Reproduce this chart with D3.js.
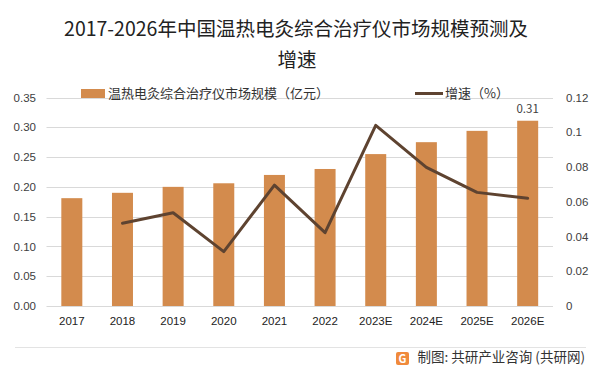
<!DOCTYPE html>
<html><head><meta charset="utf-8">
<script src="https://cdn.jsdelivr.net/npm/d3@7"></script>
<style>body{margin:0;background:#fff;}svg{display:block;font-family:"Noto Sans CJK SC","Noto Sans",sans-serif;}</style>
</head><body>
<svg id="c" width="597" height="375"></svg>
<script>
const categories = ["2017","2018","2019","2020","2021","2022","2023E","2024E","2025E","2026E"];
const marketSize = [0.181,0.190,0.200,0.206,0.220,0.230,0.255,0.275,0.294,0.311];
const growth = [null,0.0476,0.0537,0.0313,0.0696,0.0422,0.104,0.0798,0.0654,0.0620];
const leftTicks = [0,0.05,0.10,0.15,0.20,0.25,0.30,0.35];
const rightTicks = [0,0.02,0.04,0.06,0.08,0.1,0.12];
const rightTickLabels = ["0","0.02","0.04","0.06","0.08","0.1","0.12"];
const title1 = "2017-2026年中国温热电灸综合治疗仪市场规模预测及";
const title2 = "增速";
const legendBar = "温热电灸综合治疗仪市场规模（亿元）";
const legendLine = "增速（%）";
const footer = "制图: 共研产业咨询 (共研网)";

const svg = d3.select("#c");
const L = 46.5, R = 553, T = 97.5, B = 306;
const yL = d3.scaleLinear().domain([0,0.35]).range([B,T]);
const yR = d3.scaleLinear().domain([0,0.12]).range([B,T]);
const bandX = d3.scaleBand().domain(categories).range([L,R]);

// grid
svg.append("g").selectAll("line").data(leftTicks).join("line")
  .attr("x1",L).attr("x2",R).attr("y1",d=>Math.round(yL(d))+0.5).attr("y2",d=>Math.round(yL(d))+0.5)
  .attr("stroke","#d9d9d9").attr("stroke-width",1);

// left axis labels
const axL = d3.axisLeft(yL).tickValues(leftTicks).tickFormat(d3.format(".2f")).tickSize(0).tickPadding(0);
const gL = svg.append("g").attr("transform",`translate(36,0)`).call(axL);
gL.select(".domain").remove();
gL.selectAll("text").attr("fill","#404040").attr("font-size","11.5px");

const axR = d3.axisRight(yR).tickValues(rightTicks).tickFormat((d,i)=>rightTickLabels[i]).tickSize(0).tickPadding(0);
const gR = svg.append("g").attr("transform",`translate(566,0)`).call(axR);
gR.select(".domain").remove();
gR.selectAll("text").attr("fill","#404040").attr("font-size","11.5px");

// bars
svg.append("g").selectAll("rect").data(categories).join("rect")
  .attr("x",d=>bandX(d)+bandX.bandwidth()/2-10.5).attr("width",21)
  .attr("y",(d,i)=>yL(marketSize[i])).attr("height",(d,i)=>B-yL(marketSize[i]))
  .attr("fill","#D38B4D");

// value label
svg.append("text").attr("x",bandX(categories[9])+bandX.bandwidth()/2).attr("y",yL(marketSize[9])-8)
  .attr("text-anchor","middle").attr("font-size","11.5px").attr("fill","#404040").text(marketSize[9].toFixed(2));

// line
const lineData = categories.map((c,i)=>({c,v:growth[i]})).filter(d=>d.v!==null);
svg.append("path").datum(lineData)
  .attr("d",d3.line().x(d=>bandX(d.c)+bandX.bandwidth()/2).y(d=>yR(d.v)))
  .attr("fill","none").attr("stroke","#5E4330").attr("stroke-width",3).attr("stroke-linejoin","round").attr("stroke-linecap","round");

// x labels
const axB = d3.axisBottom(bandX).tickSize(0).tickPadding(0);
const gB = svg.append("g").attr("transform",`translate(0,317)`).call(axB);
gB.select(".domain").remove();
gB.selectAll("text").attr("fill","#222").attr("font-size","11.5px");

// title
svg.append("text").attr("x",296).attr("y",36).attr("text-anchor","middle").attr("font-size","19.5px").attr("fill","#222").text(title1);
svg.append("text").attr("x",297).attr("y",67).attr("text-anchor","middle").attr("font-size","19.5px").attr("fill","#222").text(title2);

// legend
svg.append("rect").attr("x",81).attr("y",89).attr("width",24).attr("height",9).attr("fill","#D38B4D");
svg.append("text").attr("x",108).attr("y",98).attr("font-size","13px").attr("fill","#333").text(legendBar);
svg.append("line").attr("x1",415).attr("x2",443).attr("y1",93.5).attr("y2",93.5).attr("stroke","#5E4330").attr("stroke-width",3);
svg.append("text").attr("x",445).attr("y",98).attr("font-size","13px").attr("fill","#333").text(legendLine);

// footer
svg.append("line").attr("x1",15).attr("x2",586).attr("y1",347.5).attr("y2",347.5).attr("stroke","#e3e3e3");
const lg = svg.append("g").attr("transform","translate(396,352)");
lg.append("rect").attr("width",13).attr("height",13).attr("rx",2).attr("fill","#F08A3C");
lg.append("text").attr("x",6.5).attr("y",10.5).attr("text-anchor","middle").attr("font-size","11px").attr("font-weight","bold").attr("fill","#fff").text("G");
svg.append("text").attr("x",585).attr("y",362).attr("text-anchor","end").attr("font-size","13.5px").attr("fill","#333").text(footer);
</script>
</body></html>
